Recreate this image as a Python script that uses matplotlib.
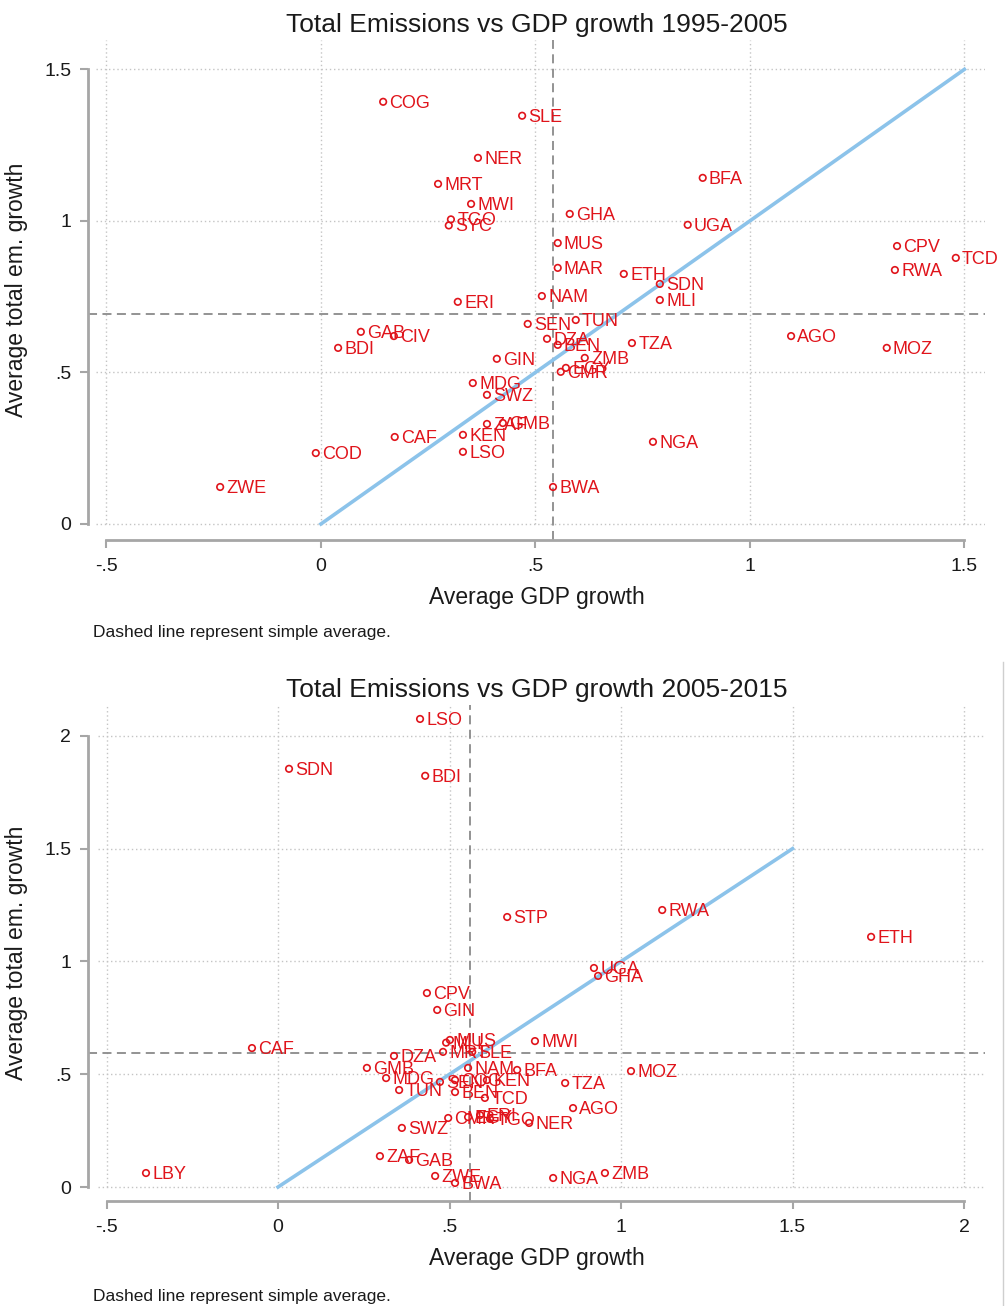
import numpy as np
import matplotlib.pyplot as plt
from matplotlib.lines import Line2D

plt.rcParams['font.family'] = ['Liberation Sans', 'DejaVu Sans']

# 1995-2005 panel
top_codes = ['COG', 'SLE', 'NER', 'MRT', 'MWI', 'TGO', 'SYC', 'ERI', 'GAB', 'CIV',
             'BDI', 'COD', 'ZWE', 'CAF', 'KEN', 'LSO', 'ZAF', 'GMB', 'SWZ', 'MDG',
             'GIN', 'SEN', 'NAM', 'TUN', 'DZA', 'BEN', 'ZMB', 'EGY', 'CMR', 'TZA',
             'NGA', 'BWA', 'GHA', 'MUS', 'MAR', 'ETH', 'SDN', 'MLI', 'UGA', 'BFA',
             'CPV', 'RWA', 'TCD', 'AGO', 'MOZ']
top_gdp = [0.145, 0.469, 0.366, 0.273, 0.350, 0.303, 0.298, 0.319, 0.093, 0.170,
           0.040, -0.012, -0.235, 0.172, 0.331, 0.331, 0.387, 0.424, 0.387, 0.354,
           0.410, 0.482, 0.515, 0.594, 0.527, 0.552, 0.615, 0.571, 0.559, 0.725,
           0.774, 0.541, 0.580, 0.552, 0.552, 0.706, 0.790, 0.790, 0.855, 0.890,
           1.343, 1.338, 1.480, 1.096, 1.319]
top_em = [1.393, 1.347, 1.208, 1.122, 1.056, 1.005, 0.985, 0.733, 0.634, 0.620,
          0.581, 0.234, 0.122, 0.287, 0.294, 0.238, 0.330, 0.333, 0.426, 0.465,
          0.545, 0.660, 0.752, 0.673, 0.611, 0.591, 0.548, 0.515, 0.502, 0.597,
          0.271, 0.122, 1.023, 0.927, 0.845, 0.825, 0.792, 0.739, 0.987, 1.142,
          0.917, 0.838, 0.878, 0.620, 0.581]
top_avg = (0.541, 0.693)

# 2005-2015 panel
bot_codes = ['LSO', 'SDN', 'BDI', 'STP', 'RWA', 'ETH', 'UGA', 'GHA', 'CPV', 'GIN',
             'CAF', 'MWI', 'MUS', 'MLI', 'MRT', 'SLE', 'DZA', 'GMB', 'NAM', 'BFA',
             'MDG', 'TUN', 'SEN', 'COG', 'KEN', 'BEN', 'TCD', 'TZA', 'AGO', 'NER',
             'CMR', 'EGY', 'ERI', 'TGO', 'SWZ', 'ZAF', 'GAB', 'ZWE', 'BWA', 'NGA',
             'ZMB', 'MOZ', 'LBY']
bot_gdp = [0.414, 0.032, 0.429, 0.668, 1.120, 1.729, 0.921, 0.933, 0.434, 0.464,
           -0.076, 0.749, 0.501, 0.490, 0.481, 0.566, 0.338, 0.259, 0.554, 0.697,
           0.315, 0.353, 0.472, 0.516, 0.609, 0.516, 0.603, 0.837, 0.860, 0.732,
           0.496, 0.554, 0.589, 0.618, 0.361, 0.297, 0.382, 0.458, 0.516, 0.802,
           0.953, 1.029, -0.385]
bot_em = [2.075, 1.854, 1.823, 1.197, 1.228, 1.109, 0.971, 0.936, 0.860, 0.785,
          0.616, 0.647, 0.652, 0.640, 0.599, 0.599, 0.581, 0.528, 0.528, 0.519,
          0.483, 0.430, 0.466, 0.474, 0.474, 0.421, 0.395, 0.461, 0.350, 0.284,
          0.306, 0.310, 0.319, 0.302, 0.262, 0.137, 0.120, 0.049, 0.018, 0.040,
          0.062, 0.514, 0.062]
bot_avg = (0.56, 0.594)

red = '#e0141b'
blue = '#8cc3ea'
axcol = '#a6a6a6'


def panel(ax, codes, gdp, em, avg, title, xlim, ylim, xticks, xlabels, yticks, ylabels):
    ax.set_xlim(*xlim)
    ax.set_ylim(*ylim)
    # grid drawn by hand so it stops at the data range like the original
    for yt in yticks:
        ax.plot([xticks[0] - 0.025, xlim[1]], [yt, yt], color='#c4c4c4', lw=1,
                ls=(0, (1, 2)), zorder=1)
    for xt in xticks:
        ax.plot([xt, xt], [yticks[0], ylim[1]], color='#c4c4c4', lw=1,
                ls=(0, (1, 2)), zorder=1)
    ax.axvline(avg[0], color='#8a8a8a', lw=1.3, ls=(0, (5, 3)), zorder=2)
    ax.axhline(avg[1], color='#8a8a8a', lw=1.3, ls=(0, (5, 3)), zorder=2)
    ax.plot([0, 1.5], [0, 1.5], color=blue, lw=2.6, zorder=3)
    ax.scatter(gdp, em, s=22, facecolors='none', edgecolors=red, linewidths=1.2, zorder=4)
    for c, x, y in zip(codes, gdp, em):
        ax.annotate(c, (x, y), xytext=(4.5, -1), textcoords='offset points',
                    va='center', ha='left', color=red, fontsize=13, zorder=5)
    for s in ['top', 'right']:
        ax.spines[s].set_visible(False)
    ax.spines['left'].set_bounds(yticks[0], yticks[-1])
    ax.spines['bottom'].set_bounds(xticks[0], xticks[-1])
    for s in ['left', 'bottom']:
        ax.spines[s].set_color(axcol)
        ax.spines[s].set_linewidth(2)
    ax.set_xticks(xticks)
    ax.set_xticklabels(xlabels)
    ax.set_yticks(yticks)
    ax.set_yticklabels(ylabels)
    ax.tick_params(axis='both', colors=axcol, length=6, width=1.5, labelsize=14,
                   labelcolor='#1a1a1a')
    ax.tick_params(axis='x', pad=7)
    ax.tick_params(axis='y', pad=6)
    ax.set_xlabel('Average GDP growth', fontsize=16.5, labelpad=8, color='#1a1a1a')
    ax.set_ylabel('Average total em. growth', fontsize=16.5, labelpad=12, color='#1a1a1a')
    ax.set_title(title, fontsize=19, pad=6, color='#1a1a1a')


fig = plt.figure(figsize=(10.06, 13.06), dpi=100)
ax1 = fig.add_axes([0.0875, 0.5865, 0.8916, 0.3829])
ax2 = fig.add_axes([0.0875, 0.0804, 0.8916, 0.3798])

panel(ax1, top_codes, top_gdp, top_em, top_avg, 'Total Emissions vs GDP growth 1995-2005',
      (-0.543, 1.548), (-0.053, 1.597),
      [-0.5, 0, 0.5, 1, 1.5], ['-.5', '0', '.5', '1', '1.5'],
      [0, 0.5, 1, 1.5], ['0', '.5', '1', '1.5'])
panel(ax2, bot_codes, bot_gdp, bot_em, bot_avg, 'Total Emissions vs GDP growth 2005-2015',
      (-0.554, 2.061), (-0.062, 2.137),
      [-0.5, 0, 0.5, 1, 1.5, 2], ['-.5', '0', '.5', '1', '1.5', '2'],
      [0, 0.5, 1, 1.5, 2], ['0', '.5', '1', '1.5', '2'])

fig.text(93 / 1006, 1 - 633 / 1306, 'Dashed line represent simple average.',
         fontsize=12.5, va='center', color='#1a1a1a')
fig.text(93 / 1006, 1 - 1296 / 1306, 'Dashed line represent simple average.',
         fontsize=12.5, va='center', color='#1a1a1a')
# frame edge of the lower screenshot
fig.add_artist(Line2D([1003 / 1006, 1003 / 1006], [0, 1 - 662 / 1306],
                      color='#cfcfcf', lw=1, transform=fig.transFigure))

fig.savefig('out.png', dpi=100)
